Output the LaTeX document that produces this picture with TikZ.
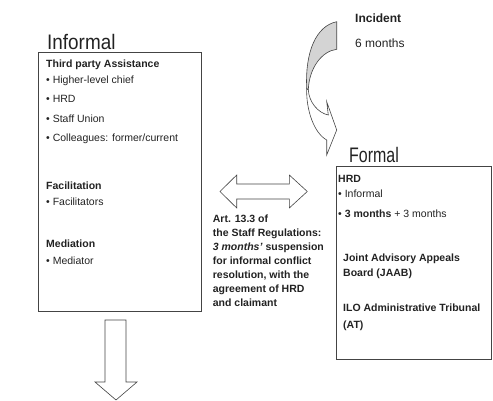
\documentclass[tikz,border=0pt]{standalone}
\usepackage{fontspec}
\setmainfont{Liberation Sans}
\newfontfamily\titlefontA{Liberation Sans}[FakeStretch=0.9]
\newfontfamily\titlefontB{Liberation Sans}[FakeStretch=0.76]
\definecolor{txt}{HTML}{222222}
\definecolor{ln}{HTML}{444444}
\definecolor{ribbon}{HTML}{D4D4D4}
\begin{document}
\begin{tikzpicture}[x=1pt,y=-1pt,
  body/.style={anchor=base west,inner sep=0pt,font=\fontsize{10.5}{12}\selectfont,text=txt},
  bodyb/.style={body,font=\bfseries\fontsize{10.5}{12}\selectfont},
  big/.style={anchor=base west,inner sep=0pt,font=\fontsize{12}{14}\selectfont,text=txt},
  titletext/.style={anchor=base west,inner sep=0pt,text=txt},
  panel/.style={draw=ln,line width=0.8pt,anchor=north west,inner sep=0pt},
  blockarrow/.style={draw=ln,line width=0.6pt,fill=white,line join=miter}]
\useasboundingbox (0,0) rectangle (493,401);

% boxes
\node[panel,minimum width=163pt,minimum height=259pt] (informalbox) at (38,52) {};
\node[panel,minimum width=155pt,minimum height=193pt] (formalbox) at (336,166) {};

% titles
\node[titletext,font=\titlefontA\fontsize{21}{24}\selectfont] (informaltitle) at (47,50) {Informal};
\node[titletext,font=\titlefontB\fontsize{21}{24}\selectfont] (formaltitle) at (349,163) {Formal};

% informal content
\node[bodyb] (tpa) at (46,67.7) {Third party Assistance};
\node[body] (i1) at (46,84) {\textbullet\ Higher-level chief};
\node[body] (i2) at (46,102.7) {\textbullet\ HRD};
\node[body] (i3) at (46,122.7) {\textbullet\ Staff Union};
\node[body] (i4) at (46,141.3) {\textbullet\ Colleagues: former/current};
\node[bodyb] (fac) at (46,189.3) {Facilitation};
\node[body] (fac1) at (46,205) {\textbullet\ Facilitators};
\node[bodyb] (med) at (46,247.7) {Mediation};
\node[body] (med1) at (46,264) {\textbullet\ Mediator};

% formal content
\node[bodyb] (hrd) at (338,182.7) {HRD};
\node[body] (f1) at (338,197.5) {\textbullet\ Informal};
\node[body] (f2) at (338,217.3) {\textbullet\ \textbf{3 months} + 3 months};
\node[bodyb] (jaab1) at (343,261) {Joint Advisory Appeals};
\node[bodyb] (jaab2) at (343,276.7) {Board (JAAB)};
\node[bodyb] (at1) at (343,311.7) {ILO Administrative Tribunal};
\node[bodyb] (at2) at (343,328) {(AT)};

% article text
\node[bodyb] (a1) at (212.7,222.7) {Art. 13.3 of};
\node[bodyb] (a2) at (212.7,236.6) {the Staff Regulations:};
\node[bodyb] (a3) at (212.7,250.5) {\textit{3 months’} suspension};
\node[bodyb] (a4) at (212.7,264.4) {for informal conflict};
\node[bodyb] (a5) at (212.7,278.3) {resolution, with the};
\node[bodyb] (a6) at (212.7,292.2) {agreement of HRD};
\node[bodyb] (a7) at (212.7,306.1) {and claimant};

% incident
\node[big,font=\bfseries\fontsize{12}{14}\selectfont] (incident) at (355,22.7) {Incident};
\node[big] (sixmonths) at (355,48) {6 months};

% double arrow
\draw[blockarrow] (220,191.5) -- (236.7,175) -- (236.7,184) -- (289.3,184) -- (289.3,175)
  -- (307.3,191.5) -- (289.3,208) -- (289.3,199) -- (236.7,199) -- (236.7,208) -- cycle;

% down arrow
\draw[blockarrow] (105,320) -- (126,320) -- (126,382) -- (137,382) -- (116,400)
  -- (95,382) -- (105,382) -- cycle;

% curved arrow: front (white) part
\draw[blockarrow] (306.7,88.3) .. controls (306,110) and (314,133) .. (326.7,140)
  -- (326.7,155) -- (336.7,130) -- (326.7,101.7) -- (328.3,115)
  .. controls (318,113) and (309,102) .. (308.3,90) -- cycle;
% curved arrow: back (grey) part
\draw[blockarrow,fill=ribbon] (336.7,21.7) .. controls (316,26) and (305,52) .. (306.7,88.3)
  -- (308.3,90) .. controls (309,68) and (322,51) .. (336.7,49.3) -- cycle;
\end{tikzpicture}
\end{document}
